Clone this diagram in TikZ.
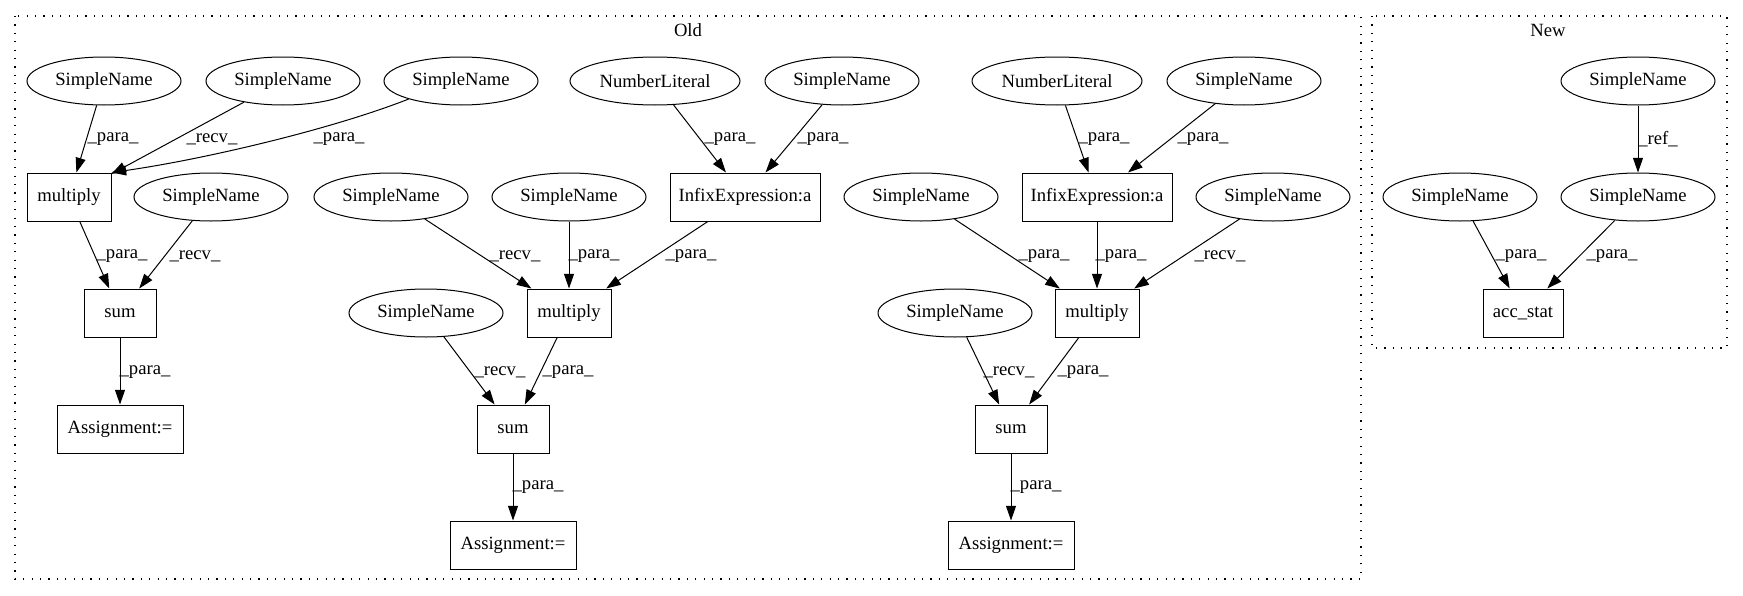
\documentclass[tikz,border=0pt]{standalone}
\usepackage{fontspec}
\setmainfont{Liberation Serif}
\usetikzlibrary{arrows.meta,shapes.geometric}
\begin{document}
\begin{tikzpicture}[x=0.75pt,y=-0.75pt,
  every node/.style={font=\fontsize{14}{16}\selectfont},
  sn/.style={draw, ellipse, line width=0.75pt, minimum width=115.5pt, minimum height=36pt, inner sep=0pt},
  nl/.style={sn, minimum width=127.5pt},
  bx/.style={draw, rectangle, line width=0.75pt, minimum height=36pt, inner sep=0pt},
  lbl/.style={inner sep=0pt},
  arr/.style={-{Triangle[length=11pt,width=7.5pt]}, line width=0.75pt},
  clus/.style={draw, line width=0.9pt, dash pattern=on 0.9pt off 5.4pt}
]
\useasboundingbox (0,0) rectangle (1743,596);

% clusters
\draw[clus] (15,16) rectangle (1361,579);
\draw[clus] (1372,16) rectangle (1727,348);
\node (oldlbl) at (688,30) {Old};
\node (newlbl) at (1548,30) {New};

% row 1
\node[sn] (sn1) at (104,81) {SimpleName};
\node[sn] (sn2) at (283,81) {SimpleName};
\node[sn] (sn3) at (461,81) {SimpleName};
\node[nl] (nl1) at (655,81) {NumberLiteral};
\node[sn] (sn4) at (842,81) {SimpleName};
\node[nl] (nl2) at (1057,81) {NumberLiteral};
\node[sn] (sn5) at (1244,81) {SimpleName};
\node[sn] (nsnt) at (1638,81) {SimpleName};

% row 2
\node[bx, minimum width=63pt] (m1) at (69,197) {multiply};
\node[sn] (sns1r) at (211,197) {SimpleName};
\node[sn] (snm2r) at (391,197) {SimpleName};
\node[sn] (snm2p) at (569,197) {SimpleName};
\node[bx, minimum width=112.5pt] (ie1) at (745,197) {InfixExpression:a};
\node[sn] (snm3p) at (921,197) {SimpleName};
\node[bx, minimum width=112.5pt] (ie2) at (1097,197) {InfixExpression:a};
\node[sn] (snm3r) at (1273,197) {SimpleName};
\node[sn] (nsnl) at (1460,197) {SimpleName};
\node[sn] (nsnr) at (1638,197) {SimpleName};

% row 3
\node[bx, minimum width=54pt] (sum1) at (120,313) {sum};
\node[sn] (sns2r) at (426,313) {SimpleName};
\node[bx, minimum width=63pt] (m2) at (569,313) {multiply};
\node[sn] (sns3r) at (955,313) {SimpleName};
\node[bx, minimum width=63pt] (m3) at (1097,313) {multiply};
\node[bx, minimum width=60pt] (acc) at (1523,313) {acc\_stat};

% row 4
\node[bx, minimum width=94.5pt] (a1) at (120,429) {Assignment:=};
\node[bx, minimum width=54pt] (sum2) at (513,429) {sum};
\node[bx, minimum width=54pt] (sum3) at (1011,429) {sum};

% row 5
\node[bx, minimum width=94.5pt] (a2) at (513,545) {Assignment:=};
\node[bx, minimum width=94.5pt] (a3) at (1011,545) {Assignment:=};

% edges
\draw[arr] (sn1) -- (m1);
\draw[arr] (sn2) -- (m1);
\draw[arr] (sn3.199) .. controls (330,130) and (200,160) .. (m1.north east);
\draw[arr] (nl1) -- (ie1);
\draw[arr] (sn4) -- (ie1);
\draw[arr] (nl2) -- (ie2);
\draw[arr] (sn5) -- (ie2);
\draw[arr] (m1) -- (sum1);
\draw[arr] (sns1r) -- (sum1);
\draw[arr] (snm2r) -- (m2);
\draw[arr] (snm2p) -- (m2);
\draw[arr] (ie1) -- (m2);
\draw[arr] (snm3p) -- (m3);
\draw[arr] (ie2) -- (m3);
\draw[arr] (snm3r) -- (m3);
\draw[arr] (sum1) -- (a1);
\draw[arr] (sns2r) -- (sum2);
\draw[arr] (m2) -- (sum2);
\draw[arr] (sns3r) -- (sum3);
\draw[arr] (m3) -- (sum3);
\draw[arr] (sum2) -- (a2);
\draw[arr] (sum3) -- (a3);
\draw[arr] (nsnt) -- (nsnr);
\draw[arr] (nsnl) -- (acc);
\draw[arr] (nsnr) -- (acc);

% edge labels
\node[lbl] (l1) at (113,139) {\_para\_};
\node[lbl] (l2) at (212,139) {\_recv\_};
\node[lbl] (l3) at (339,139) {\_para\_};
\node[lbl] (l4) at (730,139) {\_para\_};
\node[lbl] (l5) at (823,139) {\_para\_};
\node[lbl] (l6) at (1104,139) {\_para\_};
\node[lbl] (l7) at (1203,139) {\_para\_};
\node[lbl] (l8) at (122,256) {\_para\_};
\node[lbl] (l9) at (195,256) {\_recv\_};
\node[lbl] (l10) at (515,256) {\_recv\_};
\node[lbl] (l11) at (594,256) {\_para\_};
\node[lbl] (l12) at (691,256) {\_para\_};
\node[lbl] (l13) at (1044,256) {\_para\_};
\node[lbl] (l14) at (1121,256) {\_para\_};
\node[lbl] (l15) at (1220,256) {\_recv\_};
\node[lbl] (l16) at (145,372) {\_para\_};
\node[lbl] (l17) at (500,372) {\_recv\_};
\node[lbl] (l18) at (568,372) {\_para\_};
\node[lbl] (l19) at (1009,372) {\_recv\_};
\node[lbl] (l20) at (1083,372) {\_para\_};
\node[lbl] (l21) at (538,487) {\_para\_};
\node[lbl] (l22) at (1036,487) {\_para\_};
\node[lbl] (l23) at (1658,139) {\_ref\_};
\node[lbl] (l24) at (1521,256) {\_para\_};
\node[lbl] (l25) at (1612,256) {\_para\_};
\end{tikzpicture}
\end{document}
